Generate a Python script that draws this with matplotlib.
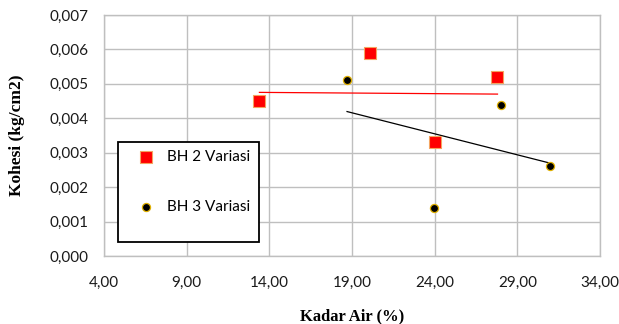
import numpy as np
import matplotlib
matplotlib.use("Agg")
import matplotlib.pyplot as plt
from matplotlib.ticker import FuncFormatter
from matplotlib.patches import Rectangle

# Kadar air (%) vs kohesi (kg/cm2)
bh2_air = [13.4, 20.1, 24.0, 27.8]
bh2_kohesi = [0.0045, 0.0059, 0.0033, 0.0052]
bh3_air = [18.7, 28.04, 30.98, 23.98]
bh3_kohesi = [0.0051, 0.0044, 0.0026, 0.0014]

x_ticks = [4, 9, 14, 19, 24, 29, 34]
y_ticks = [0.000, 0.001, 0.002, 0.003, 0.004, 0.005, 0.006, 0.007]

W, H = 619, 324
L, R, T, B = 104, 600, 15, 256
fig = plt.figure(figsize=(W / 100, H / 100), dpi=100)
ax = fig.add_axes([L / W, 1 - B / H, (R - L) / W, (B - T) / H])


def ax_xy(px, py):
    return (px - L) / (R - L), (B - py) / (B - T)


grid_c = "#bfbfbf"
ax.set_xlim(4, 34)
ax.set_ylim(0, 0.007)
ax.set_xticks(x_ticks)
ax.set_yticks(y_ticks)
ax.grid(True, color=grid_c, linewidth=1.0)
ax.set_axisbelow(True)
for sp in ax.spines.values():
    sp.set_color(grid_c)
    sp.set_linewidth(1.0)
ax.tick_params(length=0, labelsize=11, labelcolor="#1a1a1a")
ax.tick_params(axis="y", pad=11)
ax.tick_params(axis="x", pad=14)
for lbl in ax.get_xticklabels() + ax.get_yticklabels():
    lbl.set_family("Lato")

ax.xaxis.set_major_formatter(FuncFormatter(lambda v, p: f"{v:.2f}".replace(".", ",")))
ax.yaxis.set_major_formatter(FuncFormatter(lambda v, p: f"{v:.3f}".replace(".", ",")))

# linear trendlines over each series' range
for xs, ys, col in [(bh2_air, bh2_kohesi, "#ff0000"), (bh3_air, bh3_kohesi, "#000000")]:
    m, b = np.polyfit(xs, ys, 1)
    xx = np.array([min(xs), max(xs)])
    ax.plot(xx, m * xx + b, color=col, linewidth=0.9, zorder=2)

ax.scatter(bh2_air, bh2_kohesi, marker="s", s=75, color="#ff0000",
           edgecolor="#f4a460", linewidth=0.8, zorder=3, label="BH 2 Variasi")
ax.scatter(bh3_air, bh3_kohesi, marker="o", s=34, color="#000000",
           edgecolor="#e0b000", linewidth=0.9, zorder=3, label="BH 3 Variasi")

# legend box
x0, y0 = ax_xy(118, 242)
x1, y1 = ax_xy(259, 142)
ax.add_patch(Rectangle((x0, y0), x1 - x0, y1 - y0, transform=ax.transAxes,
                       facecolor="white", edgecolor="black", linewidth=1.3,
                       zorder=4, clip_on=False))
leg = ax.legend(loc="center", bbox_to_anchor=ax_xy(194, 182), frameon=False,
                borderpad=0, labelspacing=2.35, handletextpad=0.9,
                handlelength=1.0, borderaxespad=0,
                prop={"family": "Lato", "size": 11})
leg.set_zorder(5)

ax.set_xlabel("Kadar Air (%)", family="Liberation Serif", fontweight="bold",
              fontsize=12, labelpad=14)
ax.set_ylabel("Kohesi (kg/cm2)", family="Liberation Serif", fontweight="bold",
              fontsize=12.5, labelpad=18)

fig.savefig("out.png", dpi=100)
